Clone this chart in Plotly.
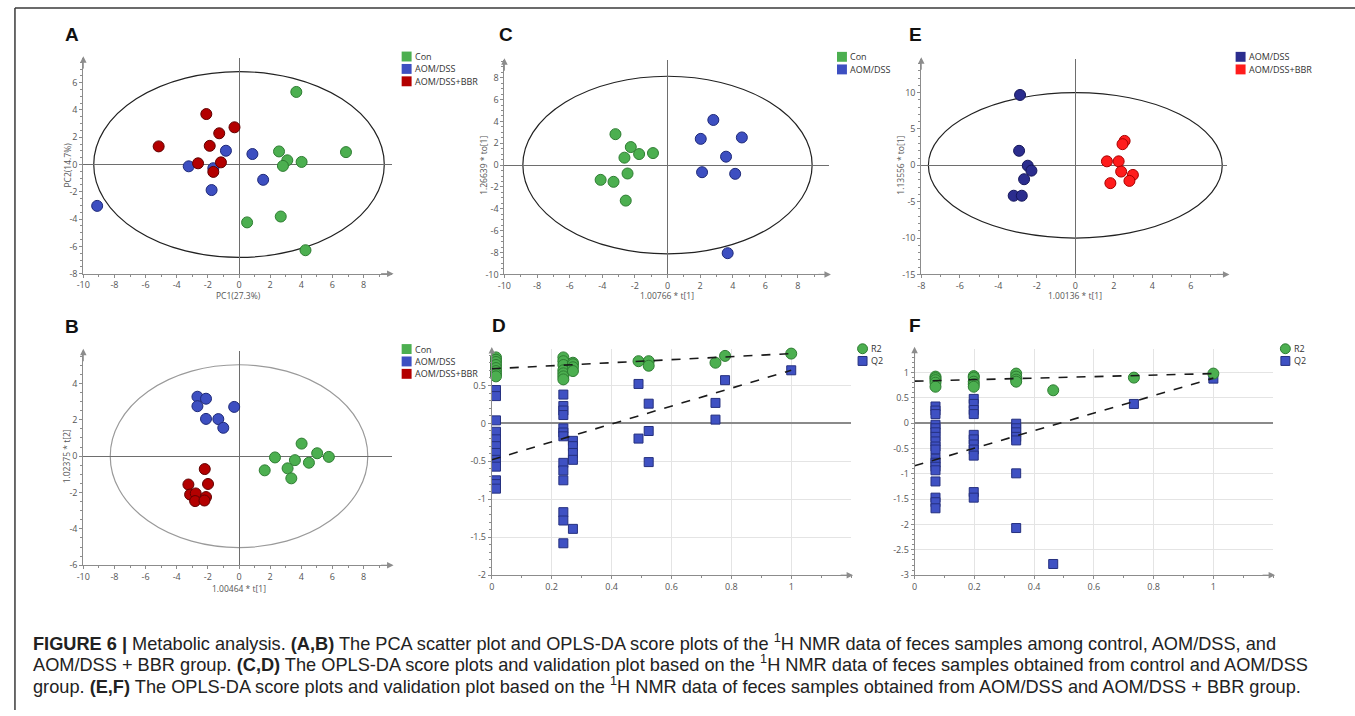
import plotly.graph_objects as go

W, H = 1355, 716

# ---------------- Data ----------------
# Panel A: PCA scores
a_con_x = [3.68, 2.57, 3.10, 2.82, 4.02, 6.87, 2.68, 0.52, 4.27]
a_con_y = [5.32, 0.96, 0.31, -0.10, 0.19, 0.91, -3.81, -4.24, -6.28]
a_aom_x = [-9.11, -3.23, -1.65, -0.84, -1.76, 0.86, 1.55]
a_aom_y = [-3.03, -0.13, -0.27, 1.01, -1.87, 0.77, -1.12]
a_bbr_x = [-5.16, -2.10, -0.29, -1.27, -1.88, -2.63, -1.16, -1.65]
a_bbr_y = [1.33, 3.70, 2.73, 2.29, 1.37, 0.09, 0.16, -0.54]
a_ellipse = [9.33, 6.81]

# Panel B: OPLS-DA, three groups
b_con_x = [2.31, 1.65, 4.02, 3.59, 3.12, 3.36, 4.49, 5.02, 5.77]
b_con_y = [-0.07, -0.78, 0.69, -0.22, -0.67, -1.22, -0.36, 0.16, -0.04]
b_aom_x = [-2.67, -2.12, -2.67, -0.31, -2.12, -1.33, -1.01]
b_aom_y = [3.27, 3.16, 2.75, 2.71, 2.05, 2.04, 1.56]
b_bbr_x = [-2.20, -3.25, -1.99, -3.14, -2.78, -2.12, -2.82, -2.22]
b_bbr_y = [-0.71, -1.56, -1.53, -2.11, -2.05, -2.25, -2.47, -2.44]
b_ellipse = [8.27, 5.03]

# Panel C: OPLS-DA Con vs AOM/DSS
c_con_x = [-3.19, -2.25, -1.74, -0.89, -2.64, -2.45, -4.10, -3.31, -2.56]
c_con_y = [2.83, 1.65, 1.01, 1.10, 0.68, -0.77, -1.35, -1.53, -3.25]
c_aom_x = [2.81, 2.04, 4.56, 3.59, 2.12, 4.15, 3.69]
c_aom_y = [4.13, 2.40, 2.53, 0.77, -0.65, -0.80, -8.06]
c_ellipse = [8.87, 8.13]

# Panel E: OPLS-DA AOM/DSS vs AOM/DSS+BBR
e_aom_x = [-2.87, -2.92, -2.47, -2.28, -2.66, -3.20, -2.78]
e_aom_y = [9.68, 2.00, -0.05, -0.73, -1.91, -4.18, -4.18]
e_bbr_x = [1.64, 2.25, 2.56, 2.45, 2.38, 2.99, 2.81, 1.82]
e_bbr_y = [0.55, 0.55, 3.36, 2.91, -0.86, -1.32, -2.14, -2.45]
e_ellipse = [7.63, 10.0]

# Panel D: permutation test (Con vs AOM/DSS)
d_perm_x = [0.014, 0.239, 0.271, 0.49, 0.524, 0.747, 0.779, 1.0]
d_r2 = [[0.87, 0.84, 0.81, 0.77, 0.73, 0.69, 0.65, 0.62],
        [0.87, 0.82, 0.77, 0.70, 0.66, 0.62, 0.58],
        [0.80, 0.78, 0.74, 0.69],
        [0.82],
        [0.82, 0.76],
        [0.80],
        [0.89],
        [0.92]]
d_q2 = [[0.44, 0.36, 0.04, -0.11, -0.21, -0.30, -0.39, -0.48, -0.57, -0.75, -0.80, -0.86],
        [0.38, 0.23, 0.17, 0.11, -0.065, -0.12, -0.17, -0.52, -0.62, -0.75, -1.17, -1.28, -1.58],
        [-0.23, -0.30, -0.39, -0.48, -1.39],
        [0.52, -0.20],
        [0.26, -0.10, -0.51],
        [0.27, 0.05],
        [0.57],
        [0.70]]
d_r2_line = [0.72, 0.92]
d_q2_line = [-0.48, 0.70]

# Panel F: permutation test (AOM/DSS vs AOM/DSS+BBR)
f_perm_x = [0.07, 0.198, 0.34, 0.464, 0.734, 1.0]
f_r2 = [[0.92, 0.89, 0.85, 0.80, 0.72],
        [0.93, 0.90, 0.82, 0.77, 0.72],
        [0.98, 0.92, 0.86, 0.82],
        [0.65],
        [0.90],
        [0.98]]
f_q2 = [[0.33, 0.25, 0.18, -0.03, -0.10, -0.18, -0.27, -0.36, -0.46, -0.52, -0.70, -0.78, -0.86, -0.93, -1.15, -1.47, -1.56, -1.68],
        [0.48, 0.38, 0.26, 0.18, -0.23, -0.32, -0.42, -0.52, -0.64, -1.36, -1.47],
        [-0.01, -0.10, -0.18, -0.27, -0.34, -0.99, -2.07],
        [-2.78],
        [0.38],
        [0.88]]
f_r2_line = [0.83, 0.98]
f_q2_line = [-0.84, 0.89]

line_x = [0, 1]

# tick labels
t_a_x = [-10, -8, -6, -4, -2, 0, 2, 4, 6, 8]
t_a_y = [-8, -6, -4, -2, 0, 2, 4, 6]
t_b_y = [-6, -4, -2, 0, 2, 4]
t_c_y = [-10, -8, -6, -4, -2, 0, 2, 4, 6, 8]
t_e_x = [-8, -6, -4, -2, 0, 2, 4, 6]
t_e_y = [-15, -10, -5, 0, 5, 10]
t_perm_x = [0, 0.2, 0.4, 0.6, 0.8, 1]
t_d_y = [-2, -1.5, -1, -0.5, 0, 0.5]
t_f_y = [-3, -2.5, -2, -1.5, -1, -0.5, 0, 0.5, 1]

# ---------------- Styles ----------------
GREEN, GREEN_E = "#4caf50", "#2e7d32"
BLUE, BLUE_E = "#3d4fc1", "#1f2a7a"
DRED, DRED_E = "#b30000", "#600000"
NAVY, NAVY_E = "#2b2d8e", "#15165a"
RED, RED_E = "#ff1c1c", "#a80000"
QBLUE, QBLUE_E = "#3f51c3", "#25307f"
AXC = "#8c8c8c"
TICKFONT = dict(family="Segoe UI, Open Sans, Arial", size=9, color="#555555")


def lab(v):
    return "%g" % v


fig = go.Figure()

panels = {
    # name: (axis idx, left, right, top, bottom, xrange, yrange)
    "A": (1, 76.7, 386.6, 58.6, 276.0, [-10, 9.8], [-8, 7.8]),
    "B": (2, 76.7, 386.6, 353.7, 570.0, [-10, 9.8], [-6, 5.8]),
    "C": (3, 500.0, 826.2, 60.7, 276.7, [-10, 9.9], [-10, 9.6]),
    "D": (4, 487.3, 848.5, 352.0, 580.0, [0, 1.2], [-2, 0.98]),
    "E": (5, 919.0, 1226.8, 59.7, 276.7, [-8, 7.9], [-15, 14.6]),
    "F": (6, 912.3, 1272.7, 351.7, 580.0, [0, 1.2], [-3, 1.47]),
}
ticks = {
    "A": (t_a_x, t_a_y, 1, 0.5),
    "B": (t_a_x, t_b_y, 1, 0.5),
    "C": (t_a_x, t_c_y, 1, 0.5),
    "D": (t_perm_x, t_d_y, 0.1, 0.1),
    "E": (t_e_x, t_e_y, 1, 1),
    "F": (t_perm_x, t_f_y, 0.1, 0.1),
}

shapes = []
annotations = []


def xs(px):
    return px / W


def ys(py):
    return 1 - py / H


for name, (i, l, r, t, b, xr, yr) in panels.items():
    sfx = "" if i == 1 else str(i)
    tx, ty, mx, my = ticks[name]
    perm = name in ("D", "F")
    xa = dict(domain=[xs(l), xs(r)], range=xr, anchor="y" + sfx,
              showline=True, linecolor=AXC, linewidth=1,
              tickmode="array", tickvals=tx, ticktext=[lab(v) for v in tx],
              ticks="outside", ticklen=3, tickcolor=AXC, tickfont=TICKFONT,
              minor=dict(tickmode="linear", tick0=xr[0], dtick=mx, ticks="outside",
                         ticklen=2, tickcolor=AXC),
              showgrid=perm, gridcolor="#e4e4e4", gridwidth=1,
              zeroline=not perm, zerolinecolor="#6e6e6e", zerolinewidth=1,
              fixedrange=True)
    ya = dict(domain=[ys(b), ys(t)], range=yr, anchor="x" + sfx,
              showline=True, linecolor=AXC, linewidth=1,
              tickmode="array", tickvals=ty, ticktext=[lab(v) for v in ty],
              ticks="outside", ticklen=3, tickcolor=AXC, tickfont=TICKFONT,
              minor=dict(tickmode="linear", tick0=yr[0], dtick=my, ticks="outside",
                         ticklen=2, tickcolor=AXC),
              showgrid=perm, gridcolor="#e4e4e4", gridwidth=1,
              zeroline=True, zerolinecolor="#8a8a8a" if perm else "#6e6e6e",
              zerolinewidth=1.5 if perm else 1,
              fixedrange=True)
    fig.layout["xaxis" + sfx] = xa
    fig.layout["yaxis" + sfx] = ya
    # axis arrow heads
    annotations.append(dict(xref="paper", yref="paper", x=xs(r + 2), y=ys(b), ax=-14, ay=0,
                            text="", showarrow=True, arrowhead=2, arrowsize=1.3,
                            arrowwidth=1, arrowcolor=AXC))
    annotations.append(dict(xref="paper", yref="paper", x=xs(l), y=ys(t - 2), ax=0, ay=14,
                            text="", showarrow=True, arrowhead=2, arrowsize=1.3,
                            arrowwidth=1, arrowcolor=AXC))


def scatter(x, y, i, color, edge, size=11, symbol="circle"):
    sfx = "" if i == 1 else str(i)
    fig.add_trace(go.Scatter(x=x, y=y, mode="markers", xaxis="x" + sfx, yaxis="y" + sfx,
                             marker=dict(size=size, color=color, symbol=symbol,
                                         line=dict(color=edge, width=1)),
                             cliponaxis=False, showlegend=False, hoverinfo="x+y"))


def ellipse(ab, i, color):
    sfx = "" if i == 1 else str(i)
    shapes.append(dict(type="circle", xref="x" + sfx, yref="y" + sfx,
                       x0=-ab[0], x1=ab[0], y0=-ab[1], y1=ab[1],
                       line=dict(color=color, width=1.2), layer="below"))


# A
ellipse(a_ellipse, 1, "#222222")
scatter(a_con_x, a_con_y, 1, GREEN, GREEN_E)
scatter(a_aom_x, a_aom_y, 1, BLUE, BLUE_E)
scatter(a_bbr_x, a_bbr_y, 1, DRED, DRED_E)
# B
ellipse(b_ellipse, 2, "#9a9a9a")
scatter(b_con_x, b_con_y, 2, GREEN, GREEN_E)
scatter(b_aom_x, b_aom_y, 2, BLUE, BLUE_E)
scatter(b_bbr_x, b_bbr_y, 2, DRED, DRED_E)
# C
ellipse(c_ellipse, 3, "#222222")
scatter(c_con_x, c_con_y, 3, GREEN, GREEN_E)
scatter(c_aom_x, c_aom_y, 3, BLUE, BLUE_E)
# E
ellipse(e_ellipse, 5, "#222222")
scatter(e_aom_x, e_aom_y, 5, NAVY, NAVY_E)
scatter(e_bbr_x, e_bbr_y, 5, RED, RED_E)


def flat(px, cols):
    xx, yy = [], []
    for xv, col in zip(px, cols):
        for v in col:
            xx.append(xv)
            yy.append(v)
    return xx, yy


for i, px, r2, q2, r2l, q2l in ((4, d_perm_x, d_r2, d_q2, d_r2_line, d_q2_line),
                                 (6, f_perm_x, f_r2, f_q2, f_r2_line, f_q2_line)):
    qx, qy = flat(px, q2)
    rx, ry = flat(px, r2)
    scatter(qx, qy, i, QBLUE, QBLUE_E, size=9, symbol="square")
    scatter(rx, ry, i, GREEN, GREEN_E, size=11)
    for yl in (r2l, q2l):
        fig.add_trace(go.Scatter(x=line_x, y=yl, mode="lines", xaxis="x%d" % i, yaxis="y%d" % i,
                                 line=dict(color="#1a1a1a", width=1.6, dash="dash"),
                                 showlegend=False, hoverinfo="skip"))

# ---------------- Legends (swatches) ----------------
LEGFONT = dict(family="Segoe UI, Open Sans, Arial", size=9, color="#333333")


def legend_items(x_px, ys_px, names, colors, symbols):
    for yp, nm, col, sym in zip(ys_px, names, colors, symbols):
        if sym == "square":
            shapes.append(dict(type="rect", xref="paper", yref="paper",
                               x0=xs(x_px - 5), x1=xs(x_px + 5), y0=ys(yp + 5), y1=ys(yp - 5),
                               fillcolor=col, line=dict(width=0)))
        elif sym == "circle":
            shapes.append(dict(type="circle", xref="paper", yref="paper",
                               x0=xs(x_px - 5), x1=xs(x_px + 5), y0=ys(yp + 5), y1=ys(yp - 5),
                               fillcolor=col, line=dict(color=GREEN_E, width=1)))
        else:
            shapes.append(dict(type="rect", xref="paper", yref="paper",
                               x0=xs(x_px - 4.5), x1=xs(x_px + 4.5), y0=ys(yp + 4.5), y1=ys(yp - 4.5),
                               fillcolor=col, line=dict(color=QBLUE_E, width=1)))
        annotations.append(dict(xref="paper", yref="paper", x=xs(x_px + 6.5), y=ys(yp),
                                xanchor="left", yanchor="middle", text=nm, showarrow=False,
                                font=LEGFONT))


grp3 = ["Con", "AOM/DSS", "AOM/DSS+BBR"]
legend_items(401.7, [57.0, 69.5, 82.0], grp3, [GREEN, BLUE, DRED], ["square"] * 3)
legend_items(401.7, [352.0, 364.5, 377.0], grp3, [GREEN, BLUE, DRED], ["square"] * 3)
legend_items(839.3, [57.3, 70.0], grp3[:2], [GREEN, BLUE], ["square"] * 2)
legend_items(1240.0, [57.3, 70.0], grp3[1:], [NAVY, RED], ["square"] * 2)
legend_items(860.0, [351.7, 364.0], ["R2", "Q2"], [GREEN, QBLUE], ["circle", "sq2"])
legend_items(1285.0, [351.7, 364.0], ["R2", "Q2"], [GREEN, QBLUE], ["circle", "sq2"])

# ---------------- Axis titles ----------------
TITLEFONT = dict(family="Segoe UI, Open Sans, Arial", size=8.5, color="#555555")
axis_titles = [
    ("PC1(27.3%)", 232.7, 298.0, 0), ("PC2(14.7%)", 60.5, 166.7, -90),
    ("1.00464 * t[1]", 233.3, 593.0, 0), ("1.02375 * t[2]", 59.5, 460.0, -90),
    ("1.00766 * t[1]", 663.3, 298.5, 0), ("1.26639 * to[1]", 479.0, 166.7, -90),
    ("1.00136 * t[1]", 1073.3, 298.5, 0), ("1.13556 * to[1]", 898.0, 166.7, -90),
]
for txt, xp, yp, ang in axis_titles:
    annotations.append(dict(xref="paper", yref="paper", x=xs(xp), y=ys(yp), text=txt,
                            showarrow=False, textangle=ang, font=TITLEFONT,
                            xanchor="center", yanchor="middle"))

# ---------------- Panel letters ----------------
for letter, xp, yp in (("A", 65, 35), ("B", 65, 329), ("C", 501.7, 35),
                       ("D", 495, 328), ("E", 913, 35), ("F", 913, 328)):
    annotations.append(dict(xref="paper", yref="paper", x=xs(xp), y=ys(yp), text="<b>%s</b>" % letter,
                            showarrow=False, font=dict(family="Liberation Sans, Arial", size=19, color="#111111"),
                            xanchor="center", yanchor="middle"))

# ---------------- Caption ----------------
caption = [
    "<b>FIGURE 6 |</b> Metabolic analysis. <b>(A,B)</b> The PCA scatter plot and OPLS-DA score plots of the <sup>1</sup>H NMR data of feces samples among control, AOM/DSS, and",
    "AOM/DSS + BBR group. <b>(C,D)</b> The OPLS-DA score plots and validation plot based on the <sup>1</sup>H NMR data of feces samples obtained from control and AOM/DSS",
    "group. <b>(E,F)</b> The OPLS-DA score plots and validation plot based on the <sup>1</sup>H NMR data of feces samples obtained from AOM/DSS and AOM/DSS + BBR group.",
]
for k, line in enumerate(caption):
    annotations.append(dict(xref="paper", yref="paper", x=xs(24), y=ys(647 + 22 * k), text=line,
                            showarrow=False, xanchor="left", yanchor="middle",
                            font=dict(family="Liberation Sans, Arial", size=18.2, color="#222222")))

# ---------------- Frame ----------------
shapes.append(dict(type="line", xref="paper", yref="paper", x0=xs(8), x1=1, y0=ys(8), y1=ys(8),
                   line=dict(color="#3a3a3a", width=1.5)))
shapes.append(dict(type="line", xref="paper", yref="paper", x0=xs(8), x1=xs(8), y0=ys(8), y1=0,
                   line=dict(color="#3a3a3a", width=1.5)))

fig.update_layout(width=W, height=H, autosize=False, margin=dict(l=0, r=0, t=0, b=0),
                  paper_bgcolor="white", plot_bgcolor="white", showlegend=False,
                  shapes=shapes, annotations=annotations)

fig.write_html("out.html", config={"displayModeBar": False},
               post_script="document.body.style.margin='0';document.body.style.overflow='hidden';")
